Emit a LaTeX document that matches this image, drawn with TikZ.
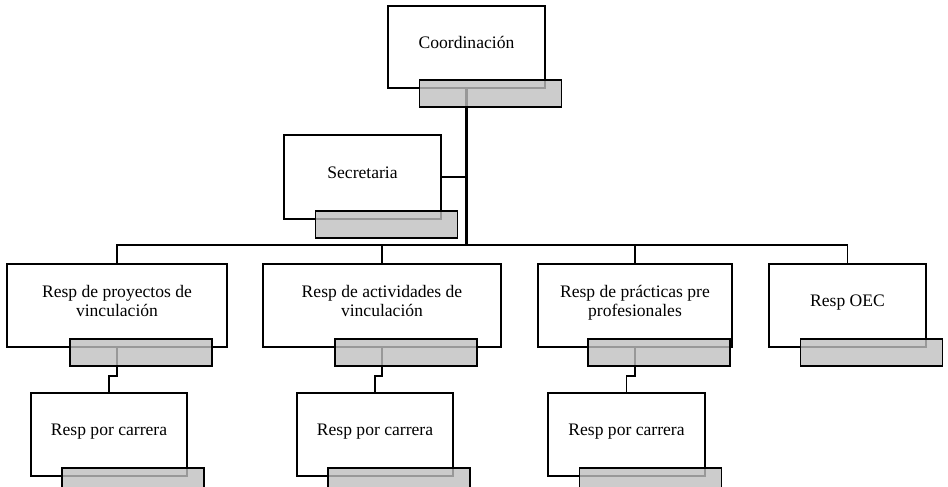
\documentclass[tikz,border=0pt]{standalone}
\usepackage{fontspec}
\setmainfont{Liberation Serif}
\usetikzlibrary{backgrounds}

\tikzset{
    unit/.style={draw, line width=1.1pt, fill=white, align=center, inner sep=0pt,
        font=\fontsize{10}{10.5}\selectfont,
        execute at end node={\rule[-5pt]{0pt}{5pt}}},
    tab/.style={draw, line width=1.1pt, fill=black!25, fill opacity=0.8,
        minimum width=2.84cm, minimum height=0.55cm, inner sep=0pt},
    link/.style={line width=1pt},
    trunk/.style={line width=1.8pt}
}

\begin{document}
\begin{tikzpicture}[x=0.02cm, y=0.02cm]
    \useasboundingbox (0,0) rectangle (948,487);

    % Top level
    \node[unit, minimum width=3.14cm, minimum height=1.64cm] (coord) at (466.5,440) {Coordinación};
    \node[unit, minimum width=3.14cm, minimum height=1.68cm] (sec) at (362.5,310) {Secretaria};

    % Second level
    \node[unit, minimum width=4.40cm, minimum height=1.66cm] (proy) at (117,181.5) {Resp de proyectos de\\vinculación};
    \node[unit, minimum width=4.76cm, minimum height=1.66cm] (activ) at (382,181.5) {Resp de actividades de\\vinculación};
    \node[unit, minimum width=3.88cm, minimum height=1.66cm] (pract) at (635,181.5) {Resp de prácticas pre\\profesionales};
    \node[unit, minimum width=3.14cm, minimum height=1.66cm] (oec) at (847.5,181.5) {Resp OEC};

    % Third level
    \node[unit, minimum width=3.12cm, minimum height=1.66cm] (carr1) at (109,52.5) {Resp por carrera};
    \node[unit, minimum width=3.12cm, minimum height=1.66cm] (carr2) at (375,52.5) {Resp por carrera};
    \node[unit, minimum width=3.14cm, minimum height=1.66cm] (carr3) at (626.5,52.5) {Resp por carrera};

    % Grey tabs
    \foreach \n in {coord,sec,proy,activ,pract,oec,carr1,carr2,carr3}
        \node[tab] (\n-tab) at ([shift={(24,-4.5)}]\n.south) {};

    % Connectors
    \begin{pgfonlayer}{background}
        \coordinate (bus) at (0,242);
        \draw[trunk] (coord.south) -- (coord.south |- bus);
        \draw[link] (sec.east) -- (sec.east -| coord.south);
        \draw[link] (proy.north) |- (bus -| oec.north) -- (oec.north);
        \draw[link] (activ.north) -- (activ.north |- bus);
        \draw[link] (pract.north) -- (pract.north |- bus);
        \draw[link] (proy.south) -- ++(0,-28) -| (carr1.north);
        \draw[link] (activ.south) -- ++(0,-28) -| (carr2.north);
        \draw[link] (pract.south) -- ++(0,-28) -| (carr3.north);
    \end{pgfonlayer}
\end{tikzpicture}
\end{document}
